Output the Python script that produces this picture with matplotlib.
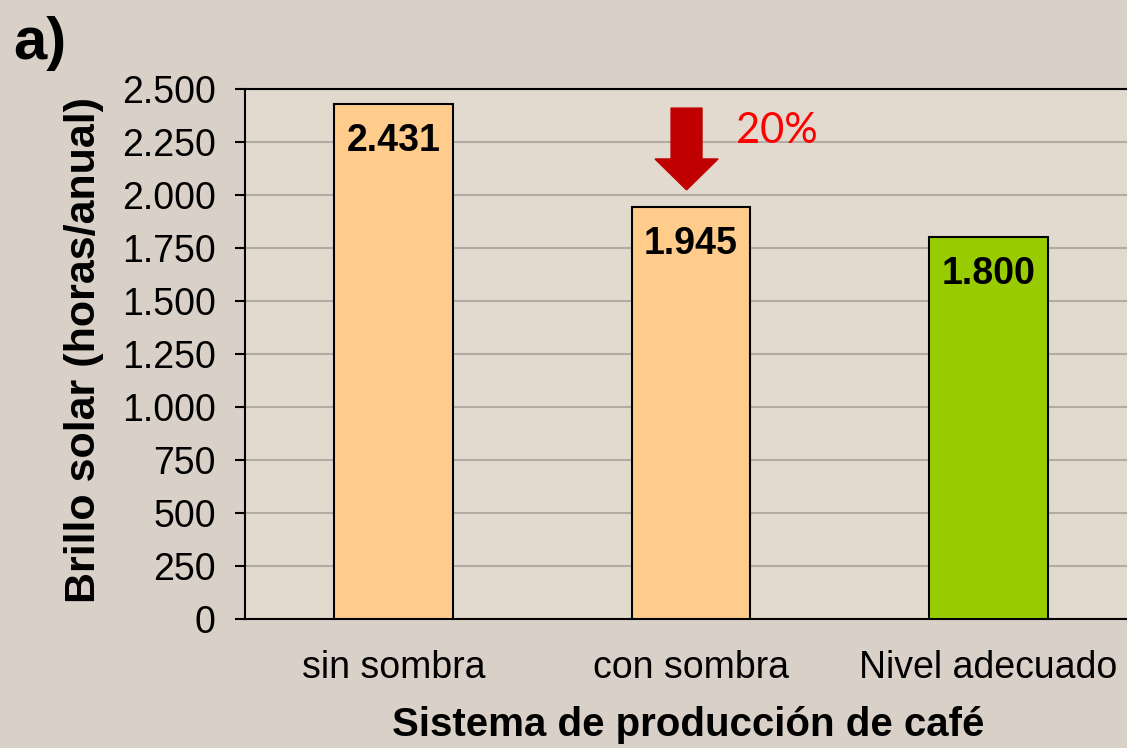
import matplotlib.pyplot as plt
from matplotlib.ticker import FuncFormatter

categorias = ['sin sombra', 'con sombra', 'Nivel adecuado']
brillo = [2431, 1945, 1800]
etiquetas = ['2.431', '1.945', '1.800']
colores = ['#ffcc8c', '#ffcc8c', '#99cc00']
yticks = [0, 250, 500, 750, 1000, 1250, 1500, 1750, 2000, 2250, 2500]

plt.rcParams['font.family'] = ['Liberation Sans', 'DejaVu Sans']

fig = plt.figure(figsize=(11.27, 7.48), dpi=100, facecolor='#d9d1c8')
ax = fig.add_axes([245 / 1127, 129 / 748, 892 / 1127, 530 / 748])
ax.set_facecolor('#e3dacf')

x = range(len(categorias))
bars = ax.bar(x, brillo, width=0.4, color=colores, edgecolor='black', linewidth=1.5, zorder=3)

for b, lab in zip(bars, etiquetas):
    ax.text(b.get_x() + b.get_width() / 2, b.get_height() - 90, lab,
            ha='center', va='top', fontsize=27, fontweight='bold', zorder=4)

# flecha de reduccion
ax.arrow(0.985, 2410, 0, -386, width=0.104, head_width=0.212, head_length=146,
         length_includes_head=True, color='#c00000', zorder=4)
ax.text(1.15, 2300, '20%', color='#ff0000', fontsize=30, family=['Lato', 'DejaVu Sans'],
        va='center', ha='left')

ax.set_xlim(-0.5, 2.5)
ax.set_ylim(0, 2500)
ax.set_yticks(yticks)
ax.yaxis.set_major_formatter(FuncFormatter(lambda v, p: f'{int(v):,}'.replace(',', '.')))
ax.set_xticks(list(x))
ax.set_xticklabels(categorias)
ax.tick_params(axis='x', length=0, pad=22, labelsize=27)
ax.tick_params(axis='y', length=7, width=1.5, pad=14, labelsize=27)
ax.grid(axis='y', color='#b3aba3', linewidth=1.5, zorder=0)

for s in ['right']:
    ax.spines[s].set_visible(False)
for s in ['left', 'bottom', 'top']:
    ax.spines[s].set_linewidth(1.5)

ax.set_ylabel('Brillo solar (horas/anual)', fontsize=31, fontweight='bold')
ax.yaxis.set_label_coords(-0.158, (619 - 350) / 530)
ax.set_xlabel('Sistema de producción de café', fontsize=29, fontweight='bold')
ax.xaxis.set_label_coords((688 - 245) / 892, -0.165)

fig.text(0.012, 0.921, 'a)', fontsize=43, fontweight='bold')

fig.savefig('out.png', dpi=100, facecolor=fig.get_facecolor())
